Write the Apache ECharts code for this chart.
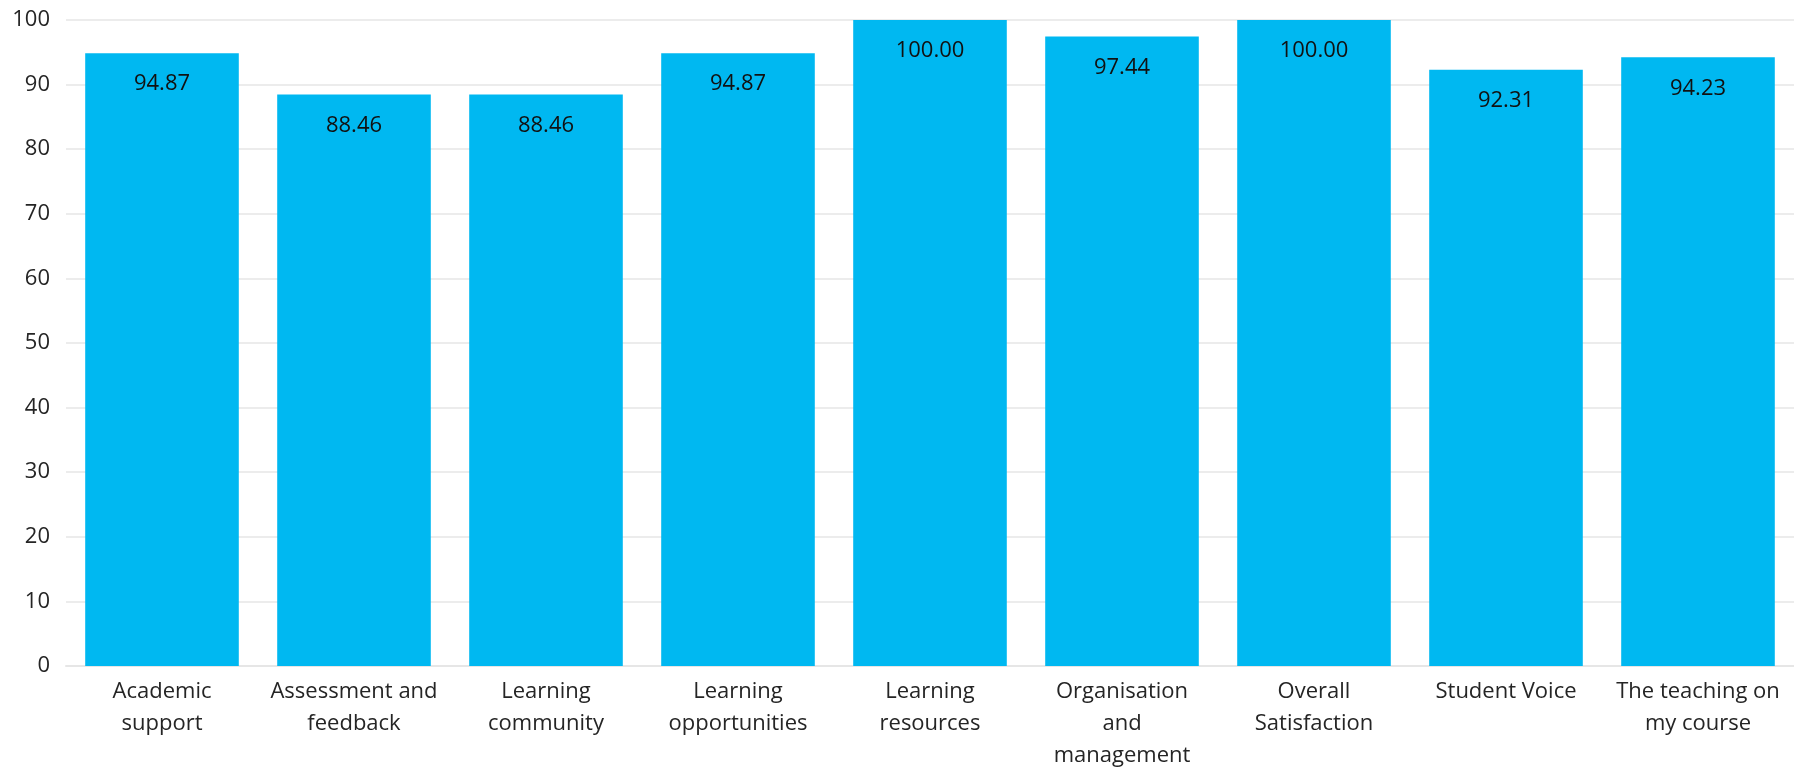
<!DOCTYPE html>
<html lang="en">
<head>
  <meta charset="UTF-8">
  <title>Survey scores</title>
  <script src="https://cdn.jsdelivr.net/npm/echarts@6/dist/echarts.min.js"></script>
  <style>
    html, body { margin: 0; padding: 0; background: #fff; }
    #main { width: 1794px; height: 772px; }
  </style>
</head>
<body>
  <div id="main"></div>
  <script>
    // categories (as shown on the axis, with the line breaks of the picture)
    var categories = [
      'Academic support',
      'Assessment and feedback',
      'Learning community',
      'Learning opportunities',
      'Learning resources',
      'Organisation and management',
      'Overall Satisfaction',
      'Student Voice',
      'The teaching on my course'
    ];
    var tickLabels = [
      'Academic\nsupport',
      'Assessment and\nfeedback',
      'Learning\ncommunity',
      'Learning\nopportunities',
      'Learning\nresources',
      'Organisation\nand\nmanagement',
      'Overall\nSatisfaction',
      'Student Voice',
      'The teaching on\nmy course'
    ];
    var scores = [94.87, 88.46, 88.46, 94.87, 100.00, 97.44, 100.00, 92.31, 94.23];

    var font = '"Open Sans", "Noto Sans", sans-serif';
    var myChart = echarts.init(document.getElementById('main'));

    var option = {
      animation: false,
      grid: { left: 66, right: 0, top: 20, bottom: 105, containLabel: false },
      xAxis: {
        type: 'category',
        data: categories,
        axisLine: { show: true, lineStyle: { color: '#e6e6e6', width: 2 } },
        axisTick: { show: false },
        axisLabel: {
          interval: 0,
          margin: 10,
          fontFamily: font,
          fontSize: 22,
          lineHeight: 32,
          color: '#252525',
          formatter: function (v, i) { return tickLabels[i]; }
        }
      },
      yAxis: {
        type: 'value',
        min: 0,
        max: 100,
        interval: 10,
        axisLine: { show: false },
        axisTick: { show: false },
        splitLine: { lineStyle: { color: '#ececec', width: 2 } },
        axisLabel: {
          margin: 16,
          fontFamily: font,
          fontSize: 22,
          color: '#252525'
        }
      },
      series: [{
        type: 'bar',
        data: scores,
        barCategoryGap: '20%',
        itemStyle: { color: '#00b8f1' },
        label: {
          show: true,
          position: 'insideTop',
          distance: 20,
          fontFamily: font,
          fontSize: 22,
          color: '#111',
          formatter: function (p) { return p.value.toFixed(2); }
        }
      }]
    };

    myChart.setOption(option);
  </script>
</body>
</html>
